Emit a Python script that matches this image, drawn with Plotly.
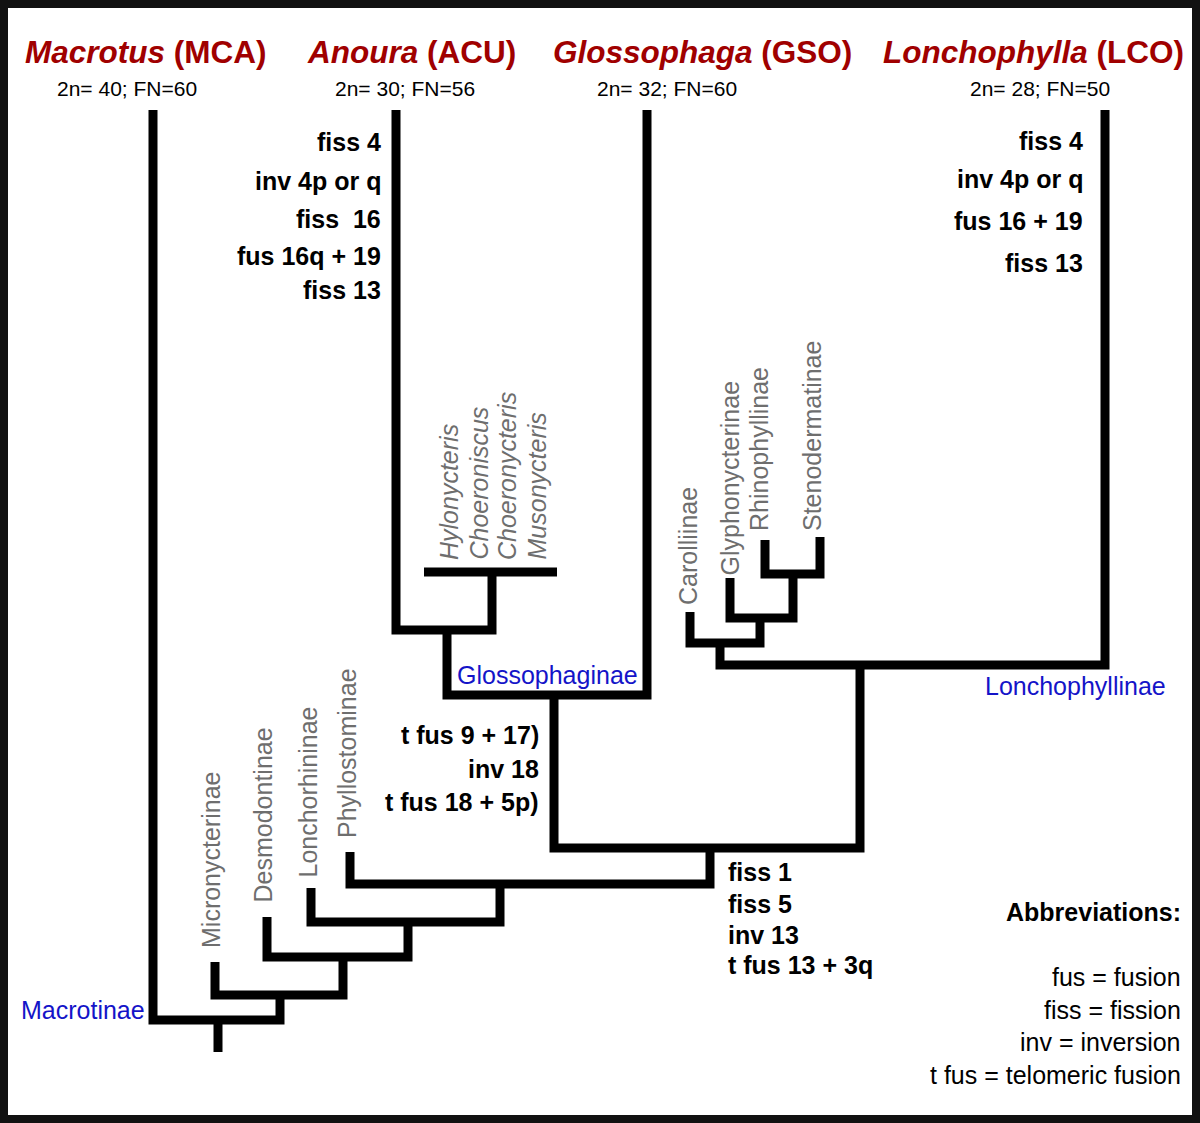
import plotly.graph_objects as go

# ---------------- data ----------------
# tree branches: each path is a polyline (pixel coords of the original drawing)
branch_x = [
    [153, 153, 280, 280],
    [218, 218],
    [215, 215, 343, 343],
    [267, 267, 408, 408],
    [311, 311, 500, 500],
    [350, 350, 710, 710],
    [554, 554, 860, 860],
    [447, 447, 647, 647],
    [396, 396, 492, 492],
    [424, 557],
    [720, 720, 1105, 1105],
    [690, 690, 760, 760],
    [730, 730, 793, 793],
    [765, 765, 820, 820],
]
branch_y = [
    [110, 1020, 1020, 995],
    [1020, 1052],
    [962, 995, 995, 957],
    [917, 957, 957, 922],
    [888, 922, 922, 884],
    [852, 884, 884, 848],
    [695, 848, 848, 665],
    [630, 695, 695, 110],
    [110, 630, 630, 572],
    [572, 572],
    [643, 665, 665, 110],
    [612, 643, 643, 618],
    [578, 618, 618, 574],
    [540, 574, 574, 537],
]

genera = ["Macrotus", "Anoura", "Glossophaga", "Lonchophylla"]
codes = ["MCA", "ACU", "GSO", "LCO"]
karyotypes = ["2n= 40; FN=60", "2n= 30; FN=56", "2n= 32; FN=60", "2n= 28; FN=50"]
title_x = [146, 411, 702, 1033]
karyo_x = [127, 405, 667, 1040]

anoura_events = ["fiss 4", "inv 4p or q", "fiss  16", "fus 16q + 19", "fiss 13"]
anoura_y = [142, 181, 219, 256, 290]
lonch_events = ["fiss 4", "inv 4p or q", "fus 16 + 19", "fiss 13"]
lonch_y = [141, 179, 221, 263]
mid_events = ["t fus 9 + 17)", "inv 18", "t fus 18 + 5p)"]
mid_y = [735, 769, 802]
base_events = ["fiss 1", "fiss 5", "inv 13", "t fus 13 + 3q"]
base_y = [872, 904, 935, 965]

abbrev_title = "Abbreviations:"
abbrevs = ["fus = fusion", "fiss = fission", "inv = inversion", "t fus = telomeric fusion"]
abbrev_y = [977, 1010, 1042, 1075]

subfamilies = ["Macrotinae", "Glossophaginae", "Lonchophyllinae"]
subfam_x = [19, 455, 983]
subfam_y = [1010, 675, 686]

taxa = ["Micronycterinae", "Desmodontinae", "Lonchorhininae", "Phyllostominae",
        "Carolliinae", "Glyphonycterinae", "Rhinophyllinae", "Stenodermatinae"]
taxa_x = [211, 262, 307, 347, 688, 729, 759, 812]
taxa_bottom = [950, 905, 880, 840, 607, 578, 533, 533]

glosso_genera = ["Hylonycteris", "Choeroniscus", "Choeronycteris", "Musonycteris"]
glosso_x = [449, 478, 507, 536]
glosso_bottom = 562

# ---------------- figure ----------------
FONT = "Liberation Sans, Arial, sans-serif"
RED = "#a00000"
GRAY = "#6e6e6e"
BLUE = "#1414c8"

xs, ys = [], []
for bx, by in zip(branch_x, branch_y):
    xs += bx + [None]
    ys += by + [None]

fig = go.Figure()
fig.add_trace(go.Scatter(x=xs, y=ys, mode="lines",
                         line=dict(color="black", width=9),
                         hoverinfo="skip", showlegend=False))

ann = []

def add(text, x, y, size, color="black", xanchor="center", yanchor="middle", angle=0):
    ann.append(dict(text=text, x=x, y=y, xref="x", yref="y", showarrow=False,
                    xanchor=xanchor, yanchor=yanchor, textangle=angle,
                    font=dict(family=FONT, size=size, color=color)))

for g, c, tx, k, kx in zip(genera, codes, title_x, karyotypes, karyo_x):
    add(f"<b><i>{g}</i> ({c})</b>", tx, 52, 31.5, RED)
    add(k, kx, 88, 21)

for t, y in zip(anoura_events, anoura_y):
    add(f"<b>{t}</b>", 383, y, 25, xanchor="right")
for t, y in zip(lonch_events, lonch_y):
    add(f"<b>{t}</b>", 1085, y, 25, xanchor="right")
for t, y in zip(mid_events, mid_y):
    add(f"<b>{t}</b>", 541, y, 25, xanchor="right")
for t, y in zip(base_events, base_y):
    add(f"<b>{t}</b>", 726, y, 25, xanchor="left")

add(f"<b>{abbrev_title}</b>", 1183, 912, 25, xanchor="right")
for t, y in zip(abbrevs, abbrev_y):
    add(t, 1183, y, 25, xanchor="right")

for t, x, y in zip(subfamilies, subfam_x, subfam_y):
    add(t, x, y, 25, BLUE, xanchor="left")

for t, x, b in zip(taxa, taxa_x, taxa_bottom):
    add(t, x, b, 25, GRAY, yanchor="bottom", angle=-90)
for t, x in zip(glosso_genera, glosso_x):
    add(f"<i>{t}</i>", x, glosso_bottom, 25, GRAY, yanchor="bottom", angle=-90)

fig.update_layout(
    width=1200, height=1123,
    margin=dict(l=0, r=0, t=0, b=0),
    paper_bgcolor="white", plot_bgcolor="white",
    xaxis=dict(range=[0, 1200], visible=False, fixedrange=True),
    yaxis=dict(range=[1123, 0], visible=False, fixedrange=True),
    annotations=ann,
    shapes=[dict(type="rect", xref="x", yref="y", x0=4, x1=1196, y0=4, y1=1119,
                 line=dict(color="#111111", width=8), fillcolor="rgba(0,0,0,0)")],
)

fig.write_html("out.html", config={"displayModeBar": False},
               post_script="document.body.style.margin='0';")
